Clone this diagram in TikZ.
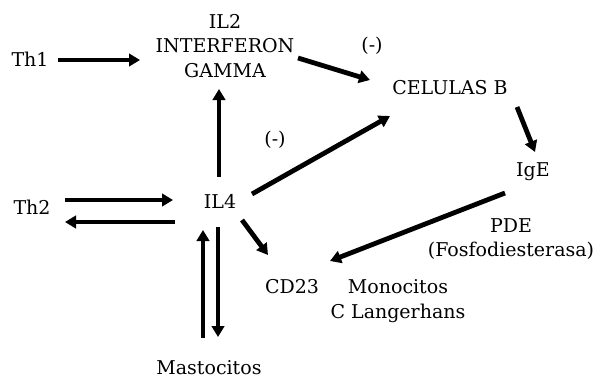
\documentclass[tikz,border=0pt]{standalone}
\usepackage{fontspec}
\setmainfont{DejaVu Serif}
\usetikzlibrary{arrows.meta,calc}
\begin{document}
\begin{tikzpicture}[x=1pt,y=-1pt,
  lbl/.style={inner sep=0pt,align=center,font=\fontsize{19}{24.5}\selectfont},
  arr/.style={line width=4.8pt,-{Triangle[length=11pt,width=12.5pt]}}]
\useasboundingbox (0,0) rectangle (598,378);
\node[lbl] (th1) at (30,59) {Th1};
\node[lbl] (il2) at (225,46) {IL2\\INTERFERON\\GAMMA};
\node[lbl] (cel) at (450,88) {CELULAS B};
\node[lbl] (ige) at (533,172) {IgE};
\node[lbl] (il4) at (220,201) {IL4};
\node[lbl] (th2) at (32,207) {Th2};
\node[lbl] (mast) at (209,368) {Mastocitos};
\node[lbl] (cd23) at (292,287) {CD23};
\node[lbl] (pde) at (511,239) {PDE\\(Fosfodiesterasa)};
\node[lbl] (mono) at (398,301) {Monocitos\\C Langerhans};
\node[lbl] (neg1) at (372,46) {(-)};
\node[lbl] (neg2) at (275,140) {(-)};
\draw[arr] ($(th1.center)+(28,1)$) -- ($(il2.center)+(-85,14)$);
\draw[arr] ($(il2.center)+(73,12)$) -- ($(cel.center)+(-80,-8)$);
\draw[arr] ($(cel.center)+(67,19)$) -- ($(ige.center)+(2,-20)$);
\draw[arr] ($(il4.center)+(32,-7)$) -- ($(cel.center)+(-60,28)$);
\draw[arr] ($(il4.center)+(-1,-24)$) -- ($(il2.center)+(-6,43)$);
\draw[arr] ($(th2.center)+(33,-7)$) -- ($(il4.center)+(-47,-1)$);
\draw[arr] ($(il4.center)+(-45,21)$) -- ($(th2.center)+(33,15)$);
\draw[arr] ($(mast.center)+(-6,-30)$) -- ($(il4.center)+(-17,29)$);
\draw[arr] ($(il4.center)+(-2,26)$) -- ($(mast.center)+(9,-31)$);
\draw[arr] ($(il4.center)+(22,19)$) -- ($(cd23.center)+(-24,-32)$);
\draw[arr] ($(ige.center)+(-28,21)$) -- ($(cd23.center)+(38,-26)$);
\end{tikzpicture}
\end{document}
